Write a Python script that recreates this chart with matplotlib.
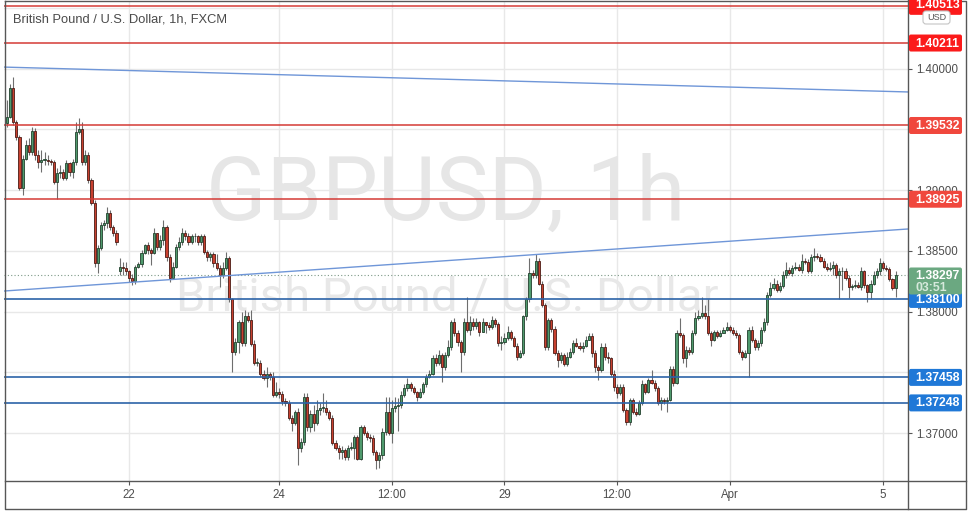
import matplotlib
matplotlib.use("Agg")
import matplotlib.pyplot as plt
import numpy as np
from matplotlib.patches import FancyBboxPatch

plt.rcParams["font.family"] = ["Liberation Sans", "DejaVu Sans"]

W, H = 973, 514

# hourly GBP/USD candles (FXCM)
closes = [
    1.3960, 1.3984, 1.3956, 1.3944, 1.3902, 1.3926, 1.3937, 1.3931, 1.3949, 1.3929,
    1.3923, 1.3925, 1.3925, 1.3924, 1.3923, 1.3907, 1.3914, 1.3915, 1.3910, 1.3922,
    1.3915, 1.3923, 1.3948, 1.3950, 1.3923, 1.3929, 1.3908, 1.3889, 1.3840, 1.3852,
    1.3871, 1.3873, 1.3881, 1.3870, 1.3865, 1.3857, 1.3837, 1.3836, 1.3833, 1.3828,
    1.3825, 1.3837, 1.3839, 1.3848, 1.3855, 1.3851, 1.3848, 1.3865, 1.3853, 1.3859,
    1.3870, 1.3845, 1.3828, 1.3837, 1.3853, 1.3857, 1.3865, 1.3862, 1.3857, 1.3862,
    1.3862, 1.3857, 1.3862, 1.3849, 1.3845, 1.3847, 1.3840, 1.3836, 1.3830, 1.3836,
    1.3844,
    1.3810, 1.3767, 1.3775, 1.3791, 1.3774, 1.3796, 1.3793, 1.3773, 1.3758, 1.3758,
    1.3749, 1.3745, 1.3749, 1.3746, 1.3731, 1.3734, 1.3732, 1.3726, 1.3725, 1.3712,
    1.3708, 1.3717, 1.3688, 1.3693, 1.3730, 1.3705, 1.3716, 1.3708, 1.3719, 1.3721,
    1.3721, 1.3717, 1.3712, 1.3692, 1.3688, 1.3684, 1.3686, 1.3680, 1.3688, 1.3688,
    1.3697, 1.3679, 1.3705, 1.3700, 1.3697, 1.3696, 1.3684, 1.3678, 1.3682, 1.3701,
    1.3717, 1.3700, 1.3721, 1.3722, 1.3723, 1.3731, 1.3737, 1.3740, 1.3737, 1.3734,
    1.3730, 1.3734, 1.3740, 1.3746, 1.3749, 1.3762, 1.3758, 1.3764, 1.3754, 1.3764,
    1.3771, 1.3791, 1.3782, 1.3775, 1.3767, 1.3791, 1.3785, 1.3791, 1.3788, 1.3791,
    1.3783,
    1.3791, 1.3789, 1.3787, 1.3793, 1.3790, 1.3774, 1.3775, 1.3778, 1.3783, 1.3778,
    1.3772, 1.3763, 1.3766, 1.3796, 1.3810, 1.3832, 1.3830, 1.3842, 1.3823, 1.3805,
    1.3771, 1.3793, 1.3786, 1.3766, 1.3760, 1.3764, 1.3757, 1.3763, 1.3767, 1.3774,
    1.3772, 1.3770, 1.3772, 1.3777, 1.3780, 1.3766, 1.3754, 1.3752, 1.3771, 1.3763,
    1.3762, 1.3749, 1.3738, 1.3733, 1.3738, 1.3719, 1.3709, 1.3727, 1.3717, 1.3716,
    1.3725, 1.3740, 1.3734, 1.3744, 1.3741, 1.3737, 1.3725, 1.3727, 1.3726, 1.3727,
    1.3753, 1.3741, 1.3782, 1.3781, 1.3762, 1.3768, 1.3767, 1.3782, 1.3795, 1.3796,
    1.3799, 1.3796, 1.3782, 1.3777, 1.3783, 1.3780, 1.3782, 1.3785, 1.3787,
    1.3785, 1.3782, 1.3781, 1.3767, 1.3763, 1.3766, 1.3785, 1.3777, 1.3771, 1.3774,
    1.3785, 1.3791, 1.3814, 1.3819, 1.3823, 1.3818, 1.3821, 1.3830, 1.3834, 1.3832,
    1.3836, 1.3837, 1.3834, 1.3842, 1.3841, 1.3833, 1.3845, 1.3846, 1.3845, 1.3842,
    1.3837, 1.3835, 1.3836, 1.3838, 1.3830, 1.3833, 1.3833, 1.3828, 1.3820, 1.3821,
    1.3822, 1.3820, 1.3833, 1.3822, 1.3816, 1.3823, 1.3830, 1.3833, 1.3840, 1.3836,
    1.3835, 1.3827, 1.3819, 1.3830,
]
highs = [
    1.3974, 1.3987, 1.3993, 1.3958, 1.3945, 1.3929, 1.3941, 1.3943, 1.3952, 1.3951,
    1.3933, 1.3933, 1.3931, 1.3929, 1.3926, 1.3925, 1.3918, 1.3921, 1.3917, 1.3925,
    1.3923, 1.3926, 1.3956, 1.3959, 1.3956, 1.3933, 1.3931, 1.3910, 1.3892, 1.3855,
    1.3874, 1.3875, 1.3886, 1.3884, 1.3871, 1.3867, 1.3844, 1.3841, 1.3841, 1.3834,
    1.3831, 1.3838, 1.3841, 1.3851, 1.3856, 1.3857, 1.3852, 1.3869, 1.3865, 1.3863,
    1.3875, 1.3871, 1.3847, 1.3841, 1.3856, 1.3861, 1.3869, 1.3867, 1.3865, 1.3864,
    1.3865, 1.3863, 1.3864, 1.3864, 1.3851, 1.3849, 1.3849, 1.3847, 1.3838, 1.3841,
    1.3849,
    1.3846, 1.3811, 1.3778, 1.3793, 1.3800, 1.3801, 1.3800, 1.3801, 1.3777, 1.3762,
    1.3760, 1.3752, 1.3754, 1.3750, 1.3750, 1.3742, 1.3737, 1.3735, 1.3729, 1.3727,
    1.3715, 1.3719, 1.3721, 1.3696, 1.3733, 1.3733, 1.3719, 1.3723, 1.3727, 1.3725,
    1.3733, 1.3727, 1.3719, 1.3715, 1.3694, 1.3690, 1.3689, 1.3688, 1.3690, 1.3693,
    1.3698, 1.3698, 1.3707, 1.3707, 1.3702, 1.3699, 1.3698, 1.3686, 1.3684, 1.3704,
    1.3730, 1.3730, 1.3727, 1.3730, 1.3729, 1.3735, 1.3740, 1.3745, 1.3742, 1.3739,
    1.3735, 1.3737, 1.3742, 1.3749, 1.3752, 1.3764, 1.3765, 1.3768, 1.3766, 1.3767,
    1.3777, 1.3793, 1.3795, 1.3785, 1.3777, 1.3795, 1.3812, 1.3796, 1.3795, 1.3795,
    1.3792,
    1.3795, 1.3791, 1.3791, 1.3796, 1.3795, 1.3791, 1.3780, 1.3782, 1.3788, 1.3785,
    1.3780, 1.3774, 1.3768, 1.3797, 1.3812, 1.3844, 1.3834, 1.3847, 1.3844, 1.3825,
    1.3807, 1.3795, 1.3795, 1.3788, 1.3768, 1.3767, 1.3766, 1.3767, 1.3770, 1.3777,
    1.3778, 1.3775, 1.3775, 1.3780, 1.3782, 1.3782, 1.3768, 1.3756, 1.3774, 1.3774,
    1.3767, 1.3763, 1.3752, 1.3740, 1.3740, 1.3740, 1.3721, 1.3729, 1.3729, 1.3721,
    1.3727, 1.3744, 1.3741, 1.3745, 1.3752, 1.3744, 1.3739, 1.3730, 1.3729, 1.3730,
    1.3755, 1.3755, 1.3785, 1.3795, 1.3782, 1.3772, 1.3771, 1.3785, 1.3800, 1.3801,
    1.3812, 1.3805, 1.3810, 1.3784, 1.3785, 1.3785, 1.3785, 1.3787, 1.3791,
    1.3789, 1.3787, 1.3785, 1.3782, 1.3768, 1.3768, 1.3787, 1.3788, 1.3778, 1.3777,
    1.3787, 1.3795, 1.3816, 1.3824, 1.3828, 1.3826, 1.3824, 1.3833, 1.3841, 1.3837,
    1.3838, 1.3841, 1.3839, 1.3847, 1.3844, 1.3843, 1.3847, 1.3852, 1.3848, 1.3847,
    1.3844, 1.3840, 1.3841, 1.3842, 1.3840, 1.3836, 1.3837, 1.3836, 1.3830, 1.3823,
    1.3826, 1.3824, 1.3837, 1.3834, 1.3823, 1.3826, 1.3833, 1.3836, 1.3844, 1.3842,
    1.3838, 1.3837, 1.3828, 1.3833,
]
lows = [
    1.3952, 1.3959, 1.3954, 1.3941, 1.3900, 1.3896, 1.3925, 1.3929, 1.3929, 1.3925,
    1.3918, 1.3915, 1.3921, 1.3921, 1.3921, 1.3905, 1.3893, 1.3910, 1.3908, 1.3908,
    1.3912, 1.3910, 1.3921, 1.3946, 1.3921, 1.3921, 1.3906, 1.3888, 1.3837, 1.3832,
    1.3851, 1.3867, 1.3869, 1.3867, 1.3862, 1.3855, 1.3830, 1.3830, 1.3830, 1.3824,
    1.3822, 1.3823, 1.3836, 1.3837, 1.3847, 1.3847, 1.3838, 1.3847, 1.3851, 1.3851,
    1.3855, 1.3842, 1.3824, 1.3828, 1.3836, 1.3851, 1.3855, 1.3859, 1.3855, 1.3856,
    1.3857, 1.3855, 1.3855, 1.3847, 1.3842, 1.3842, 1.3837, 1.3834, 1.3820, 1.3828,
    1.3834,
    1.3808, 1.3750, 1.3764, 1.3766, 1.3772, 1.3772, 1.3791, 1.3772, 1.3756, 1.3755,
    1.3746, 1.3744, 1.3738, 1.3744, 1.3730, 1.3730, 1.3729, 1.3723, 1.3722, 1.3711,
    1.3702, 1.3707, 1.3674, 1.3684, 1.3690, 1.3702, 1.3701, 1.3702, 1.3707, 1.3715,
    1.3717, 1.3715, 1.3711, 1.3690, 1.3686, 1.3679, 1.3679, 1.3678, 1.3678, 1.3686,
    1.3679, 1.3678, 1.3678, 1.3698, 1.3694, 1.3693, 1.3682, 1.3670, 1.3671, 1.3679,
    1.3698, 1.3698, 1.3692, 1.3717, 1.3702, 1.3721, 1.3730, 1.3735, 1.3735, 1.3732,
    1.3726, 1.3729, 1.3732, 1.3738, 1.3745, 1.3748, 1.3755, 1.3756, 1.3742, 1.3752,
    1.3763, 1.3768, 1.3780, 1.3772, 1.3750, 1.3764, 1.3783, 1.3781, 1.3785, 1.3786,
    1.3780,
    1.3786, 1.3782, 1.3785, 1.3786, 1.3787, 1.3772, 1.3768, 1.3773, 1.3777, 1.3777,
    1.3771, 1.3760, 1.3762, 1.3764, 1.3793, 1.3808, 1.3828, 1.3828, 1.3822, 1.3804,
    1.3768, 1.3768, 1.3783, 1.3764, 1.3754, 1.3758, 1.3755, 1.3755, 1.3762, 1.3765,
    1.3771, 1.3768, 1.3767, 1.3771, 1.3777, 1.3763, 1.3750, 1.3744, 1.3750, 1.3760,
    1.3758, 1.3747, 1.3735, 1.3729, 1.3731, 1.3717, 1.3707, 1.3707, 1.3716, 1.3714,
    1.3715, 1.3723, 1.3732, 1.3733, 1.3740, 1.3735, 1.3723, 1.3719, 1.3724, 1.3717,
    1.3726, 1.3739, 1.3740, 1.3779, 1.3758, 1.3754, 1.3764, 1.3765, 1.3781, 1.3793,
    1.3795, 1.3794, 1.3781, 1.3772, 1.3776, 1.3778, 1.3779, 1.3782, 1.3784,
    1.3783, 1.3781, 1.3778, 1.3765, 1.3760, 1.3762, 1.3746, 1.3775, 1.3768, 1.3768,
    1.3772, 1.3783, 1.3789, 1.3812, 1.3818, 1.3816, 1.3816, 1.3819, 1.3828, 1.3830,
    1.3829, 1.3834, 1.3833, 1.3832, 1.3839, 1.3832, 1.3832, 1.3842, 1.3843, 1.3841,
    1.3836, 1.3833, 1.3833, 1.3830, 1.3828, 1.3810, 1.3818, 1.3826, 1.3811, 1.3818,
    1.3819, 1.3819, 1.3818, 1.3819, 1.3808, 1.3810, 1.3822, 1.3828, 1.3830, 1.3834,
    1.3833, 1.3825, 1.3818, 1.3812,
]
first_open = 1.3955
gap_opens = {36: 1.3833}  # Sunday open after the weekend gap

red_levels = [1.40513, 1.40211, 1.39532, 1.38925]
blue_levels = [1.38100, 1.37458, 1.37248]
last_price = 1.38297
countdown = "03:51"

upper_trend = ([-1, 288], [1.40013, 1.39808])
lower_trend = ([-1, 288], [1.38169, 1.38680])

tick_pos = [39, 87, 123, 159, 195, 231, 280]
tick_labels = ["22", "24", "12:00", "29", "12:00", "Apr", "5"]
price_ticks = [1.370, 1.375, 1.380, 1.385, 1.390, 1.395, 1.400, 1.405]
# 1.37500 and 1.39500 sit fully under the level labels on the price scale
price_tick_labels = ["1.37000", "", "1.38000", "1.38500", "1.39000", "", "1.40000", ""]

GREEN, GREEN_EDGE = "#4f9a6d", "#22402d"
RED, RED_EDGE = "#c8402f", "#4a1a14"
WICK = "#6e6e6e"
AXIS = "#575757"
GRID = "#e8e8e8"
LINE_RED = "#d43a36"
LINE_BLUE = "#2c63a8"
TREND = "#6f96d8"

fig = plt.figure(figsize=(W / 100, H / 100), dpi=100)
fig.patch.set_facecolor("white")
ax = fig.add_axes([4 / W, 1 - 481 / H, 904 / W, 480 / H])
ax.set_xlim(-0.95, 287.97)
ax.set_ylim(1.36605, 1.40557)

# grid
for p in price_ticks:
    ax.axhline(p, color=GRID, lw=1, zorder=0.5)
for t in tick_pos:
    ax.axvline(t, color=GRID, lw=1, zorder=0.5)

# watermark
ax.text(0.488, 0.596, "GBPUSD, 1h", transform=ax.transAxes, ha="center", va="center",
        fontsize=64, color="#e6e6e6", family=["Roboto", "DejaVu Sans"], zorder=1)
ax.text(0.49, 0.381, "British Pound / U.S. Dollar", transform=ax.transAxes, ha="center",
        va="center", fontsize=34, color="#e8e8e8", family=["Roboto", "DejaVu Sans"], zorder=1)

# candles
x = np.arange(len(closes))
c = np.array(closes)
o = np.r_[first_open, c[:-1]]
for i, v in gap_opens.items():
    o[i] = v
hi = np.maximum(highs, np.maximum(o, c))
lo = np.minimum(lows, np.minimum(o, c))
up = c >= o
body = c - o
body = np.where(np.abs(body) < 0.00006, np.where(up, 0.00006, -0.00006), body)

ax.vlines(x, lo, hi, color=WICK, lw=0.8, zorder=3)
ax.bar(x[up], body[up], bottom=o[up], width=0.68, color=GREEN, edgecolor=GREEN_EDGE,
       linewidth=0.6, zorder=4)
ax.bar(x[~up], body[~up], bottom=o[~up], width=0.68, color=RED, edgecolor=RED_EDGE,
       linewidth=0.6, zorder=4)

# drawings
ax.axhline(last_price, color="#7d9a88", lw=0.8, ls=(0, (1, 2)), zorder=2)
for lvl in red_levels:
    ax.axhline(lvl, color=LINE_RED, lw=1.1, zorder=5)
for lvl in blue_levels:
    ax.axhline(lvl, color=LINE_BLUE, lw=1.2, zorder=5)
ax.plot(*upper_trend, color=TREND, lw=1.0, zorder=5)
ax.plot(*lower_trend, color=TREND, lw=1.0, zorder=5)

# axes
ax.yaxis.tick_right()
ax.set_yticks(price_ticks)
ax.set_yticklabels(price_tick_labels)
ax.set_xticks(tick_pos)
ax.set_xticklabels(tick_labels)
ax.tick_params(axis="y", length=3, width=0.8, color=AXIS, labelsize=8.3, labelcolor="#4d4d4d", pad=3)
ax.tick_params(axis="x", length=3, width=0.8, color=AXIS, labelsize=8.3, labelcolor="#4d4d4d", pad=3)
for side in ("top", "left", "right", "bottom"):
    ax.spines[side].set_visible(False)

# overlay in pixel coordinates for the frame and price scale labels
ov = fig.add_axes([0, 0, 1, 1], zorder=10)
ov.set_xlim(0, W)
ov.set_ylim(H, 0)
ov.axis("off")
ov.patch.set_alpha(0)


def to_px(price):
    return H - ax.transData.transform((0, price))[1]


ov.plot([4.5, 965.5, 965.5, 4.5, 4.5], [0.5, 0.5, 508.5, 508.5, 0.5], color=AXIS, lw=1)
ov.plot([908, 908], [0, 508.5], color=AXIS, lw=1)
ov.plot([4.5, 965.5], [481, 481], color=AXIS, lw=1)

ov.text(13, 19, "British Pound / U.S. Dollar, 1h, FXCM", fontsize=9.3, color="#4a4a4a",
        va="center", ha="left")


def price_label(price, text, face, dy=0.5):
    y = to_px(price)
    ov.add_patch(FancyBboxPatch((909, y - 8.5), 53, 17, boxstyle="round,pad=0,rounding_size=2",
                                fc=face, ec="none", zorder=3))
    ov.text(915, y + dy, text, color="white", fontsize=8.8, fontweight="bold",
            va="center", ha="left", zorder=4)


for lvl, face in zip(red_levels, ["#fb1a1a", "#fb1a1a", "#f0473d", "#f0473d"]):
    price_label(lvl, f"{lvl:.5f}", face, dy=-1.5 if lvl == red_levels[0] else 0.5)
for lvl in blue_levels:
    price_label(lvl, f"{lvl:.5f}", "#1f78d7")

y_last = to_px(last_price)
ov.add_patch(FancyBboxPatch((909, y_last - 8), 53, 27, boxstyle="round,pad=0,rounding_size=2",
                            fc="#6ba881", ec="none", zorder=3))
ov.text(915, y_last + 0.5, f"{last_price:.5f}", color="white", fontsize=8.8, fontweight="bold",
        va="center", ha="left", zorder=4)
ov.text(915, y_last + 12.5, countdown, color="#d6e9dc", fontsize=8.8, fontweight="bold",
        va="center", ha="left", zorder=4)

ov.add_patch(FancyBboxPatch((923, 11), 27, 13, boxstyle="round,pad=0,rounding_size=3",
                            fc="white", ec="#c4c4c4", lw=0.8, zorder=5))
ov.text(936.5, 17.8, "USD", fontsize=6.5, color="#555555", ha="center", va="center", zorder=6)

fig.savefig("out.png", dpi=100)
